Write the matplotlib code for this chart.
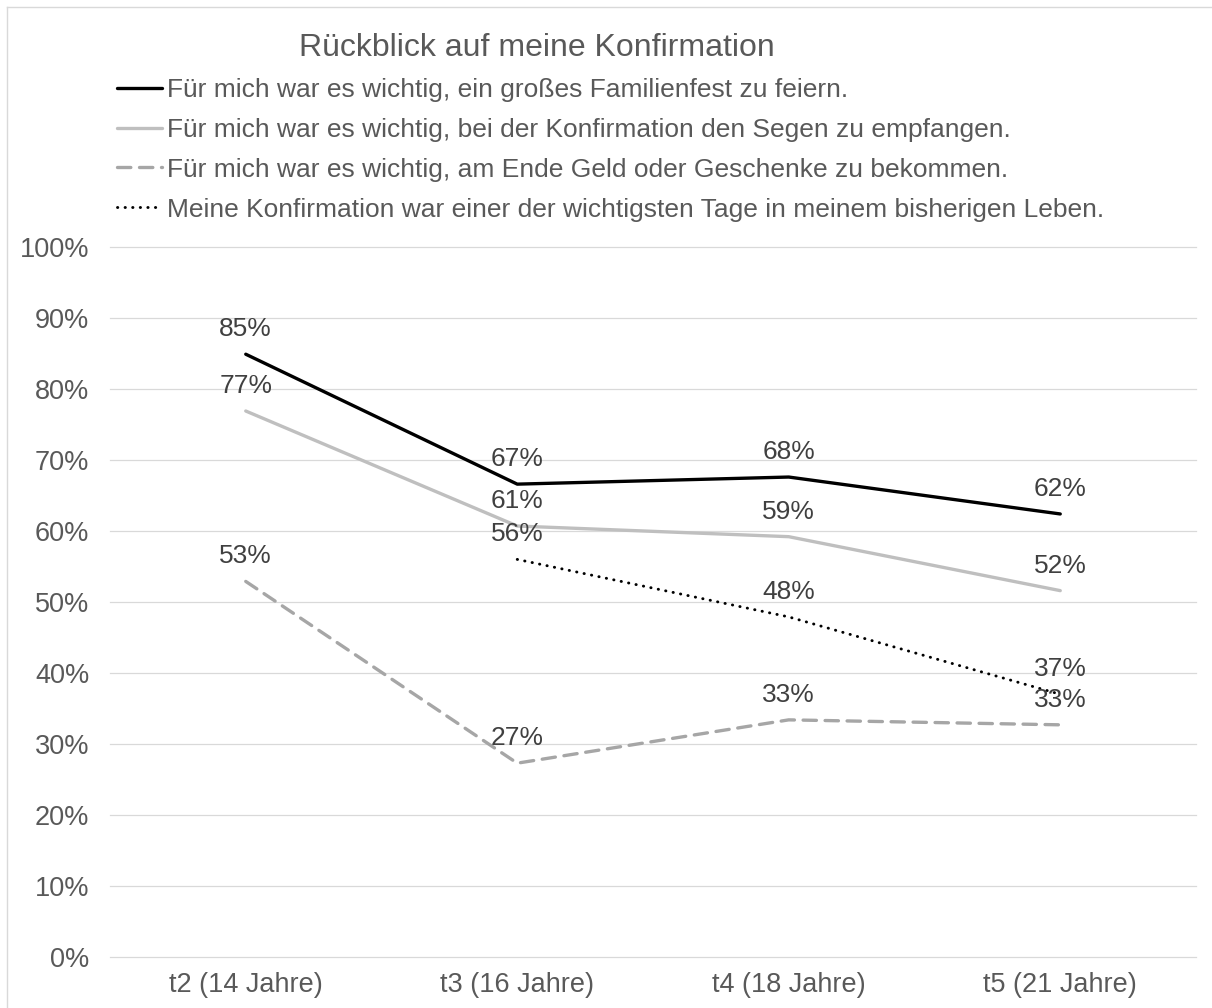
import matplotlib
matplotlib.use("Agg")
import matplotlib.pyplot as plt
import numpy as np
from matplotlib.lines import Line2D

plt.rcParams['font.family'] = ['Liberation Sans', 'DejaVu Sans']

categories = ["t2 (14 Jahre)", "t3 (16 Jahre)", "t4 (18 Jahre)", "t5 (21 Jahre)"]
series_names = [
    "Für mich war es wichtig, ein großes Familienfest zu feiern.",
    "Für mich war es wichtig, bei der Konfirmation den Segen zu empfangen.",
    "Für mich war es wichtig, am Ende Geld oder Geschenke zu bekommen.",
    "Meine Konfirmation war einer der wichtigsten Tage in meinem bisherigen Leben.",
]
familienfest = [84.9, 66.6, 67.6, 62.4]
segen = [76.9, 60.7, 59.2, 51.6]
geschenke = [52.9, 27.3, 33.4, 32.7]
wichtigster_tag = [np.nan, 56.0, 47.9, 37.0]
title = "Rückblick auf meine Konfirmation"

TXT = "#595959"
W, H = 1212, 1008
fig = plt.figure(figsize=(W / 100, H / 100), dpi=100)
ax = fig.add_axes([110 / W, 1 - 957 / H, (1196 - 110) / W, (957 - 247) / H])

x = np.arange(len(categories))
styles = [
    dict(color="black", lw=2.4, ls="-", solid_capstyle="round"),
    dict(color="#BFBFBF", lw=2.4, ls="-", solid_capstyle="round"),
    dict(color="#A6A6A6", lw=2.4, ls=(0, (4.0, 2.6)), dash_capstyle="round"),
    dict(color="black", lw=2.1, ls=(0, (0.1, 2.5)), dash_capstyle="round"),
]
data = [familienfest, segen, geschenke, wichtigster_tag]
handles = []
for vals, st, name in zip(data, styles, series_names):
    ln, = ax.plot(x, vals, label=name, zorder=3, **st)
    handles.append(ln)
    for xi, v in zip(x, vals):
        if np.isnan(v):
            continue
        ax.annotate(f"{v:.0f}%", (xi, v), xytext=(0, 18), textcoords="offset points",
                    ha="center", va="center", fontsize=19, color="#404040", zorder=4)

ax.set_xlim(-0.5, len(categories) - 0.5)
ax.set_ylim(0, 100)
ax.set_yticks(np.arange(0, 101, 10))
ax.set_yticklabels([f"{t}%" for t in range(0, 101, 10)])
ax.set_xticks(x)
ax.set_xticklabels(categories)
ax.tick_params(axis="both", length=0, labelsize=19.5, labelcolor=TXT)
ax.tick_params(axis="y", pad=15)
ax.tick_params(axis="x", pad=11)
ax.grid(axis="y", color="#D9D9D9", lw=0.9, zorder=0)
for gl in ax.get_ygridlines():
    gl.set_clip_on(False)
ax.set_axisbelow(True)
for s in ax.spines.values():
    s.set_visible(False)

fig.text(537 / W, 1 - 48 / H, title, ha="center", va="center", fontsize=23, color=TXT)

leg = fig.legend(handles=handles, loc="upper left", bbox_to_anchor=(117 / W, 1 - 78 / H),
                 frameon=False, fontsize=19, handlelength=1.7, handletextpad=0.2,
                 labelspacing=0.6, borderaxespad=0, borderpad=0)
for t in leg.get_texts():
    t.set_color(TXT)

# chart area border (top and left visible)
fig.add_artist(Line2D([7 / W, 1.0], [1 - 7 / H, 1 - 7 / H], color="#D9D9D9", lw=1.0,
                      transform=fig.transFigure))
fig.add_artist(Line2D([7 / W, 7 / W], [0, 1 - 7 / H], color="#D9D9D9", lw=1.0,
                      transform=fig.transFigure))

fig.savefig("out.png", dpi=100)
